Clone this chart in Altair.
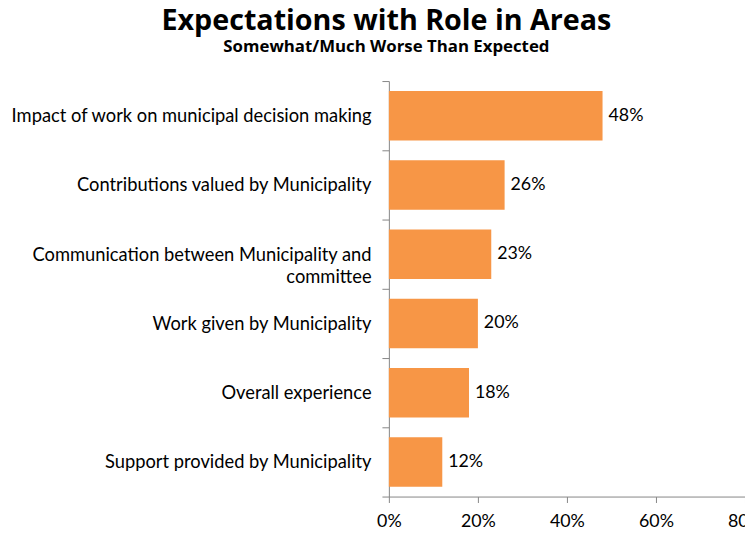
import altair as alt
import pandas as pd

categories = [
    "Impact of work on municipal decision making",
    "Contributions valued by Municipality",
    "Communication between Municipality and committee",
    "Work given by Municipality",
    "Overall experience",
    "Support provided by Municipality",
]
values = [0.48, 0.26, 0.23, 0.20, 0.18, 0.12]
x_ticks = [0, 0.2, 0.4, 0.6, 0.8]

df = pd.DataFrame({"area": categories, "pct": values})

FONT = "Lato"
TFONT = "Open Sans"
GRAY = "#868686"
ORANGE = "#F79646"

y_enc = alt.Y(
    "area:N",
    sort=categories,
    scale=alt.Scale(paddingInner=0, paddingOuter=0),
    axis=alt.Axis(
        title=None,
        labelFont=FONT,
        labelFontSize=18.5,
        labelColor="#000000",
        labelLimit=400,
        labelPadding=11,
        labelLineHeight=23,
        labelExpr="datum.label == 'Communication between Municipality and committee' ? ['Communication between Municipality and', 'committee'] : datum.label",
        tickBand="extent",
        tickSize=7,
        tickColor=GRAY,
        domainColor=GRAY,
        grid=False,
    ),
)

x_enc = alt.X(
    "pct:Q",
    scale=alt.Scale(domain=[0, 0.8], nice=False),
    axis=alt.Axis(
        title=None,
        values=x_ticks,
        format=".0%",
        labelFont=FONT,
        labelFontSize=18,
        labelColor="#000000",
        labelPadding=10,
        tickSize=6,
        tickColor=GRAY,
        domainColor=GRAY,
        grid=False,
        labelFlush=False,
    ),
)

bars = alt.Chart(df).mark_bar(
    color=ORANGE, height=alt.RelativeBandSize(0.714)
).encode(x=x_enc, y=y_enc)

labels = alt.Chart(df).mark_text(
    align="left", baseline="middle", dx=6, font=FONT, fontSize=18, color="#000000"
).encode(
    x="pct:Q",
    y=alt.Y("area:N", sort=categories),
    text=alt.Text("pct:Q", format=".0%"),
)

chart = (
    alt.layer(bars, labels)
    .properties(
        width=360,
        height=420,
        autosize=alt.AutoSizeParams(type="none"),
        padding={"left": 385, "top": 71, "right": 0, "bottom": 36},
        title=alt.TitleParams(
            text="Expectations with Role in Areas",
            subtitle="Somewhat/Much Worse Than Expected",
            font=TFONT,
            fontSize=29,
            fontWeight="bold",
            color="#000000",
            subtitleFont=TFONT,
            subtitleFontSize=17,
            subtitleFontWeight="bold",
            subtitleColor="#000000",
            subtitlePadding=4,
            anchor="middle",
            frame="bounds",
            offset=17,
        ),
    )
    .configure_view(stroke=None)
)

chart.save("out.html", embed_options={"renderer": "svg", "actions": False})
